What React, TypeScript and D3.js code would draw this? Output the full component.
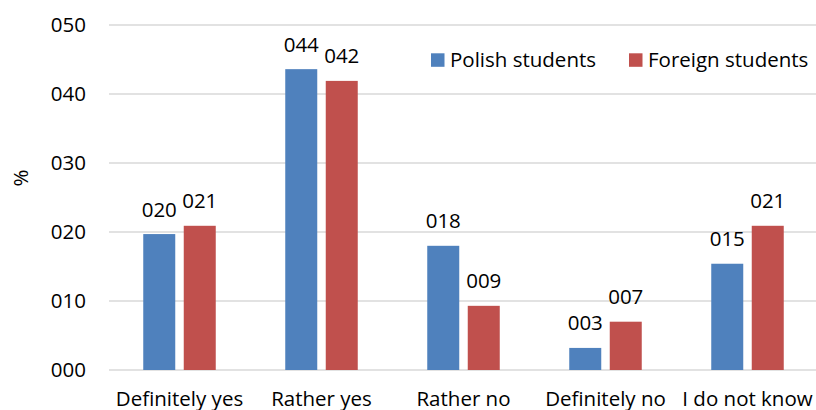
import React from "react";
import * as d3 from "d3";

const categories = ["Definitely yes", "Rather yes", "Rather no", "Definitely no", "I do not know"];
const seriesNames = ["Polish students", "Foreign students"];
const polish = [19.7, 43.6, 18.0, 3.2, 15.4];
const foreign = [20.9, 41.9, 9.3, 7.0, 20.9];
const yTicks = [0, 10, 20, 30, 40, 50];
const colors = ["#4f81bd", "#c0504d"];

const W = 816;
const H = 410;
const FONT = "'Open Sans', sans-serif";
const FS = 20.5;

export default function App() {
  const x = d3.scaleBand<string>().domain(categories).range([108.5, 818.5]).padding(0);
  const y = d3.scaleLinear().domain([0, 50]).range([370, 25]);
  const barW = 32;
  const gap = 8.5;
  const fmt = (v: number) => d3.format("03d")(Math.round(v));
  const series = [polish, foreign];

  return (
    <svg width={W} height={H} style={{ position: "absolute", left: 0, top: 0 }} fontFamily={FONT}>
      <rect width={W} height={H} fill="#fff" />
      {yTicks.map((t) => (
        <g key={t}>
          <line x1={109} x2={W} y1={y(t)} y2={y(t)} stroke="#d9d9d9" strokeWidth={1.5} />
          <text x={86} y={y(t)} dy="0.35em" textAnchor="end" fontSize={FS} fill="#000">
            {fmt(t)}
          </text>
        </g>
      ))}
      <text transform={`translate(28,${178}) rotate(-90)`} textAnchor="middle" fontSize={FS} fill="#000">
        %
      </text>
      {categories.map((c, i) => {
        const cx = x(c)! + x.bandwidth() / 2;
        return (
          <g key={c}>
            {series.map((s, k) => {
              const bx = cx - gap / 2 - barW + k * (barW + gap);
              return (
                <g key={k}>
                  <rect x={bx} y={y(s[i])} width={barW} height={y(0) - y(s[i])} fill={colors[k]} />
                  <text x={bx + barW / 2} y={y(s[i]) - 17.5} textAnchor="middle" fontSize={FS} fill="#000">
                    {fmt(s[i])}
                  </text>
                </g>
              );
            })}
            <text x={cx} y={406} textAnchor="middle" fontSize={FS} fill="#000">
              {c}
            </text>
          </g>
        );
      })}
      {seriesNames.map((n, k) => {
        const lx = [431, 629][k];
        return (
          <g key={n}>
            <rect x={lx} y={53.3} width={13.5} height={13.5} fill={colors[k]} />
            <text x={lx + 19} y={60} dy="0.35em" fontSize={FS} fill="#000">
              {n}
            </text>
          </g>
        );
      })}
    </svg>
  );
}
